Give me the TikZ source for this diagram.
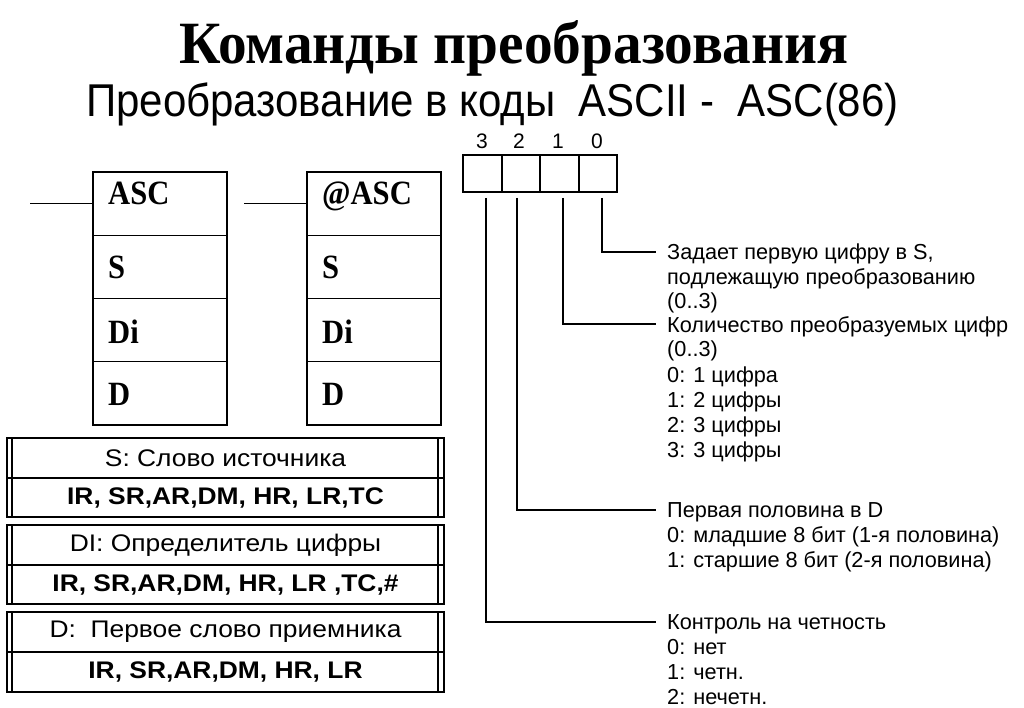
\documentclass[tikz,border=0pt]{standalone}
\usepackage{fontspec}
\setmainfont{Liberation Serif}
\setsansfont{Liberation Sans}
\begin{document}
\begin{tikzpicture}[x=1pt,y=-1pt,
  cell/.style={draw,line width=1.4,inner sep=0,outer sep=0,minimum width=134,minimum height=63.25},
  celltxt/.style={anchor=base west,inner sep=0,font=\fontsize{34}{38}\selectfont\bfseries,xscale=0.9},
  trow/.style={draw,line width=2.6,inner sep=0,outer sep=0,minimum width=437,minimum height=40},
  tnorm/.style={font=\sffamily\fontsize{24}{28}\selectfont},
  tbold/.style={font=\sffamily\bfseries\fontsize{24}{28}\selectfont},
  bit/.style={draw,line width=2,inner sep=0,outer sep=0,minimum width=38.5,minimum height=37},
  bitlbl/.style={anchor=base,inner sep=0,font=\sffamily\fontsize{21}{24}\selectfont},
  conn/.style={line width=2},
  lead/.style={line width=1.2},
  rt/.style={anchor=base west,inner sep=0,font=\sffamily\fontsize{21.7}{25}\selectfont}]
\path[use as bounding box] (0,0) rectangle (1024,708);

% titles
\node[anchor=base,inner sep=0,font=\fontsize{60}{64}\selectfont\bfseries,xscale=0.955] (title) at (514,64) {Команды преобразования};
\node[anchor=base west,inner sep=0,font=\sffamily\fontsize{46}{50}\selectfont,xscale=0.913] (subtitle) at (86,117) {Преобразование в коды\ \ ASCII -\ \ ASC(86)};

% box 1
\node[cell] (a1) at (160,203.6) {};
\node[cell] (a2) at (160,266.9) {};
\node[cell] (a3) at (160,330.1) {};
\node[cell] (a4) at (160,393.4) {};
\node[celltxt] (a1t) at (108,205) {ASC};
\node[celltxt] (a2t) at (108,279) {S};
\node[celltxt] (a3t) at (108,343) {Di};
\node[celltxt] (a4t) at (108,405) {D};
\coordinate (la) at (30,203.6);
\draw[lead] (la) -- (a1.west);

% box 2
\node[cell] (b1) at (374,203.6) {};
\node[cell] (b2) at (374,266.9) {};
\node[cell] (b3) at (374,330.1) {};
\node[cell] (b4) at (374,393.4) {};
\node[celltxt] (b1t) at (322,205) {@ASC};
\node[celltxt] (b2t) at (322,279) {S};
\node[celltxt] (b3t) at (322,343) {Di};
\node[celltxt] (b4t) at (322,405) {D};
\coordinate (lb) at (244,203.6);
\draw[lead] (lb) -- (b1.west);

% tables
\node[trow,tnorm] (s1) at (225.5,458) {\scalebox{1.1}[1]{S: Слово источника}};
\node[trow,tbold,minimum height=39] (s2) at (225.5,497.5) {\scalebox{1.1}[1]{IR, SR,AR,DM, HR, LR,TC}};
\node[trow,tnorm] (d1) at (225.5,545) {\scalebox{1.1}[1]{DI: Определитель цифры}};
\node[trow,tbold,minimum height=39] (d2) at (225.5,584.5) {\scalebox{1.1}[1]{IR, SR,AR,DM, HR, LR ,TC,\#}};
\node[trow,tnorm] (e1n) at (225.5,632) {\scalebox{1.1}[1]{D:\ \ Первое слово приемника}};
\node[trow,tbold] (e2n) at (225.5,672) {\scalebox{1.1}[1]{IR, SR,AR,DM, HR, LR}};
\foreach \t/\b in {s1/s2,d1/d2,e1n/e2n}{
  \draw[line width=2.6] ([xshift=5]\t.north west) -- ([xshift=5]\b.south west);
  \draw[line width=2.6] ([xshift=-6]\t.north east) -- ([xshift=-6]\b.south east);
}

% bit box
\node[bit] (c3) at (482.25,173.5) {};
\node[bit] (c2) at (520.75,173.5) {};
\node[bit] (c1) at (559.25,173.5) {};
\node[bit] (c0) at (597.75,173.5) {};
\node[bitlbl] (l3) at (482,149) {3};
\node[bitlbl] (l2) at (519,149) {2};
\node[bitlbl] (l1) at (558,149) {1};
\node[bitlbl] (l0) at (597,149) {0};

\coordinate (e0) at (656,252);
\coordinate (e1) at (656,324);
\coordinate (e2) at (656,510);
\coordinate (e3) at (656,622);
\draw[conn] ([xshift=4,yshift=-6]c0.south) |- (e0);
\draw[conn] ([xshift=4,yshift=-6]c1.south) |- (e1);
\draw[conn] ([xshift=-4,yshift=-6]c2.south) |- (e2);
\draw[conn] ([xshift=4,yshift=-6]c3.south) |- (e3);

% right texts
\node[rt] (r1) at (667,259.5) {Задает первую цифру в S,};
\node[rt] (r2) at (667,284.2) {подлежащую преобразованию};
\node[rt] (r3) at (667,308.9) {(0..3)};
\node[rt] (r4) at (667,332) {Количество преобразуемых цифр};
\node[rt] (r5) at (667,356.7) {(0..3)};
\node[rt] (r6) at (667,382.4) {0: 1 цифра};
\node[rt] (r7) at (667,407.5) {1: 2 цифры};
\node[rt] (r8) at (667,432.5) {2: 3 цифры};
\node[rt] (r9) at (667,457.5) {3: 3 цифры};
\node[rt] (p1) at (667,517.5) {Первая половина в D};
\node[rt] (p2) at (667,542.5) {0: младшие 8 бит (1-я половина)};
\node[rt] (p3) at (667,567.5) {1: старшие 8 бит (2-я половина)};
\node[rt] (k1) at (667,629.5) {Контроль на четность};
\node[rt] (k2) at (667,654.5) {0: нет};
\node[rt] (k3) at (667,679.5) {1: четн.};
\node[rt] (k4) at (667,704.5) {2: нечетн.};
\end{tikzpicture}
\end{document}
